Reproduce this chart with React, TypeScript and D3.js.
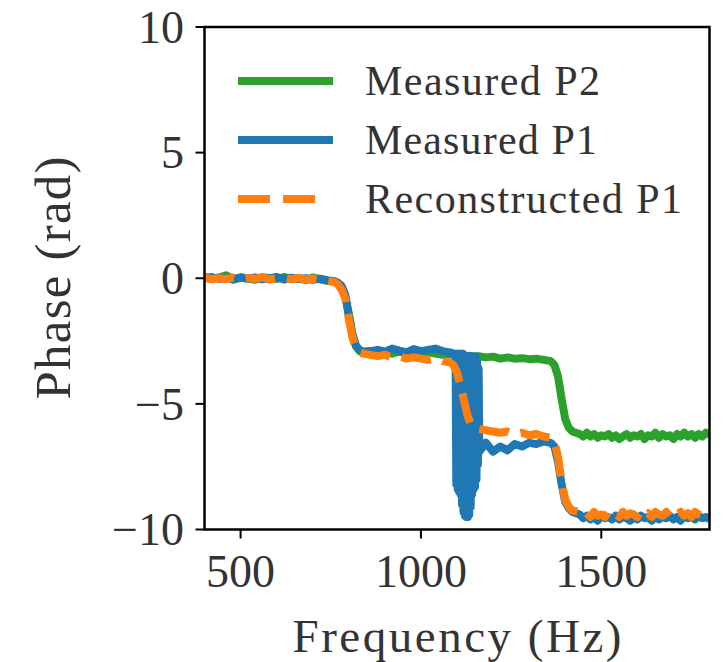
import React from "react";
import * as d3 from "d3";

// Frequency grid (Hz)
const freq = [
  400, 420, 440, 460, 480, 500, 520, 540, 560, 580, 600, 620, 640, 660, 680, 700, 720, 740, 760,
  770, 780, 790, 800, 810, 820, 830, 840,
  860, 880, 900, 920, 940, 960, 980, 1000, 1020, 1040, 1060, 1080,
  1090, 1100, 1110, 1120, 1130, 1140, 1150, 1160,
  1180, 1200, 1220, 1240, 1260, 1280, 1300, 1320, 1340, 1360,
  1370, 1380, 1390, 1400, 1410, 1420,
  1440, 1450, 1460, 1470, 1480, 1490, 1500, 1510, 1520, 1530, 1540, 1550, 1560, 1570, 1580, 1590, 1600, 1610, 1620,
  1630, 1640, 1650, 1660, 1670, 1680, 1690, 1700, 1710, 1720, 1730, 1740, 1750, 1760, 1770, 1780, 1790, 1800,
];

// Measured P2 (rad)
const phaseP2 = [
  0.05, -0.02, 0.03, 0.12, -0.05, 0.02, 0.0, -0.06, 0.04, 0.01, -0.03, 0.05, -0.02, 0.0, -0.08, 0.03, -0.04, -0.1, -0.12,
  -0.2, -0.35, -0.7, -1.4, -2.2, -2.7, -2.9, -2.98,
  -2.95, -2.9, -2.95, -3.0, -2.92, -3.0, -2.9, -2.98, -2.95, -3.0, -3.05, -3.02,
  -3.05, -3.08, -3.05, -3.1, -3.08, -3.1, -3.12, -3.1,
  -3.15, -3.12, -3.2, -3.15, -3.2, -3.18, -3.22, -3.2, -3.25, -3.3,
  -3.45, -3.9, -4.8, -5.6, -5.95, -6.1,
  -6.2, -6.3, -6.15, -6.3, -6.2, -6.35, -6.25, -6.3, -6.2, -6.35, -6.25, -6.4, -6.3, -6.2, -6.35, -6.25, -6.3, -6.2, -6.4,
  -6.25, -6.3, -6.15, -6.35, -6.2, -6.3, -6.25, -6.4, -6.2, -6.3, -6.15, -6.3, -6.2, -6.35, -6.2, -6.3, -6.15, -6.25,
];

// Measured P1 (rad) on the grid; null where the dense resonance samples below apply
const phaseP1: (number | null)[] = [
  0.0, 0.05, -0.03, 0.02, -0.05, 0.04, -0.02, 0.03, -0.04, 0.0, 0.05, -0.05, 0.02, -0.03, 0.0, -0.06, -0.02, -0.08, -0.12,
  -0.18, -0.3, -0.65, -1.5, -2.25, -2.7, -2.85, -2.92,
  -2.9, -2.85, -2.92, -2.8, -2.88, -2.95, -2.82, -2.9, -2.85, -2.8, -2.9, -2.95,
  -3.0, null, null, null, null, null, null, null,
  -6.55, -6.9, -6.7, -6.85, -6.6, -6.7, -6.55, -6.6, -6.5, -6.55,
  -6.7, -7.3, -8.2, -8.9, -9.15, -9.3,
  -9.4, -9.55, -9.45, -9.6, -9.5, -9.65, -9.45, -9.55, -9.5, -9.6, -9.45, -9.6, -9.5, -9.55, -9.65, -9.5, -9.6, -9.45, -9.55,
  -9.5, -9.65, -9.45, -9.6, -9.5, -9.55, -9.45, -9.6, -9.5, -9.65, -9.45, -9.55, -9.5, -9.6, -9.45, -9.55, -9.5, -9.6,
];

// Measured P1 dense samples across the resonance near 1100-1160 Hz
const spikeFreq = [
  1096, 1098, 1100, 1102, 1104, 1106, 1108, 1110, 1112, 1114, 1116, 1118, 1120, 1122, 1124, 1126, 1128,
  1130, 1132, 1134, 1136, 1138, 1140, 1142, 1144, 1146, 1148, 1150, 1152, 1154, 1156, 1158, 1160, 1162,
];
const spikeP1 = [
  -3.1, -8.2, -3.0, -8.4, -3.1, -8.5, -3.0, -8.6, -3.1, -9.0, -3.0, -9.3, -3.1, -9.45, -3.2, -9.5, -3.1,
  -9.5, -3.2, -9.4, -3.1, -9.1, -3.2, -8.6, -3.1, -8.4, -3.2, -8.3, -3.1, -8.0, -3.3, -7.4, -3.6, -6.9,
];

// Reconstructed P1 (rad)
const phaseRec = [
  0.02, -0.04, 0.0, -0.03, 0.03, -0.05, 0.01, -0.02, 0.04, -0.05, 0.0, 0.02, -0.04, 0.01, -0.05, -0.02, -0.06, -0.1, -0.15,
  -0.25, -0.45, -0.8, -1.6, -2.35, -2.8, -2.95, -3.0,
  -3.05, -3.1, -3.05, -3.15, -3.1, -3.2, -3.15, -3.2, -3.25, -3.2, -3.3, -3.35,
  -3.45, -3.75, -4.3, -4.9, -5.5, -5.85, -5.95, -6.0,
  -6.05, -6.1, -6.15, -6.1, -6.2, -6.15, -6.25, -6.2, -6.3, -6.35,
  -6.5, -7.1, -8.1, -8.8, -9.1, -9.25,
  -9.3, -9.45, -9.35, -9.5, -9.3, -9.45, -9.4, -9.5, -9.3, -9.4, -9.35, -9.5, -9.3, -9.45, -9.35, -9.4, -9.5, -9.3, -9.45,
  -9.35, -9.5, -9.3, -9.4, -9.45, -9.3, -9.5, -9.35, -9.4, -9.3, -9.45, -9.35, -9.5, -9.3, -9.4, -9.45, -9.35, -9.4,
];

const xTicks = [500, 1000, 1500];
const yTicks = [10, 5, 0, -5, -10];
const seriesNames = ["Measured P2", "Measured P1", "Reconstructed P1"];
const seriesColors = ["#2ca02c", "#1f77b4", "#ff7f0e"];

const FONT = "'Liberation Serif', 'Times New Roman', serif";
const TEXT = "#333";

export default function App() {
  const W = 723;
  const H = 662;
  const x = d3.scaleLinear().domain([400, 1800]).range([204.5, 709.5]);
  const y = d3.scaleLinear().domain([-10, 10]).range([529.5, 27]);

  type Pt = [number, number];
  const p2: Pt[] = freq.map((f, i) => [f, phaseP2[i]]);
  const p1: Pt[] = freq
    .map((f, i) => [f, phaseP1[i]] as [number, number | null])
    .filter((d) => d[1] !== null)
    .map((d) => [d[0], d[1] as number] as Pt)
    .concat(spikeFreq.map((f, i) => [f, spikeP1[i]] as Pt))
    .sort((a, b) => a[0] - b[0]);
  const rec: Pt[] = freq.map((f, i) => [f, phaseRec[i]]);

  const line = d3
    .line<Pt>()
    .x((d) => x(d[0]))
    .y((d) => y(d[1]));

  const fmt = (v: number) => (v < 0 ? "\u2212" + Math.abs(v) : String(v));
  const [x0, x1] = x.range();
  const [yb, yt] = y.range();

  const legendY = [81, 140, 199];
  const legendTextLen = [235, 232, 317];

  return (
    <svg
      width={W}
      height={H}
      style={{ position: "absolute", left: 0, top: 0, background: "#fff" }}
      fontFamily={FONT}
    >
      <defs>
        <clipPath id="plotClip">
          <rect x={x0} y={yt} width={x1 - x0} height={yb - yt} />
        </clipPath>
      </defs>
      <rect x={0} y={0} width={W} height={H} fill="#fff" />

      <g clipPath="url(#plotClip)" fill="none" strokeLinejoin="round">
        <path d={line(p2) || ""} stroke={seriesColors[0]} strokeWidth={8} />
        <path d={line(p1) || ""} stroke={seriesColors[1]} strokeWidth={8} />
        <path
          d={line(rec) || ""}
          stroke={seriesColors[2]}
          strokeWidth={8}
          strokeDasharray="30 12"
        />
      </g>

      {/* frame */}
      <rect
        x={x0}
        y={yt}
        width={x1 - x0}
        height={yb - yt}
        fill="none"
        stroke="#000"
        strokeWidth={2.5}
      />

      {/* y ticks */}
      {yTicks.map((t) => (
        <g key={"y" + t}>
          <line x1={x0 - 9} x2={x0} y1={y(t)} y2={y(t)} stroke="#000" strokeWidth={2} />
          <text x={184} y={y(t)} dy="0.34em" textAnchor="end" fontSize={46} fill={TEXT}>
            {fmt(t)}
          </text>
        </g>
      ))}

      {/* x ticks */}
      {xTicks.map((t) => (
        <g key={"x" + t}>
          <line x1={x(t)} x2={x(t)} y1={yb} y2={yb + 9} stroke="#000" strokeWidth={2} />
          <text x={x(t)} y={587} textAnchor="middle" fontSize={46} fill={TEXT}>
            {fmt(t)}
          </text>
        </g>
      ))}

      {/* axis labels */}
      <text
        x={457}
        y={652}
        textAnchor="middle"
        fontSize={47}
        fill={TEXT}
        textLength={329}
        lengthAdjust="spacing"
      >
        Frequency (Hz)
      </text>
      <text
        transform="translate(70,278) rotate(-90)"
        textAnchor="middle"
        fontSize={51}
        fill={TEXT}
        textLength={243}
        lengthAdjust="spacing"
      >
        Phase (rad)
      </text>

      {/* legend */}
      {seriesNames.map((name, i) => (
        <g key={name}>
          <line
            x1={238}
            x2={i === 2 ? 320 : 333}
            y1={legendY[i]}
            y2={legendY[i]}
            stroke={seriesColors[i]}
            strokeWidth={8}
            strokeDasharray={i === 2 ? "32 13" : undefined}
          />
          <text
            x={365}
            y={legendY[i] + 14}
            fontSize={42}
            fill={TEXT}
            textLength={legendTextLen[i]}
            lengthAdjust="spacing"
          >
            {name}
          </text>
        </g>
      ))}
    </svg>
  );
}
